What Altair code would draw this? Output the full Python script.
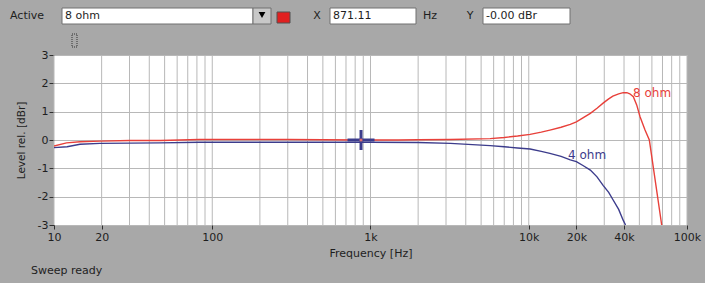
import altair as alt
import pandas as pd

# ---- data ----
freq_8 = [10, 12, 14.6, 19.5, 30, 47, 83, 136, 200, 300, 500, 871, 1500, 2000, 3200,
          5700, 7000, 8500, 10200, 12000, 13600, 16000, 18300, 20000, 22000, 24500,
          27000, 29500, 32000, 34000, 37000, 39500, 41700, 43500,
          45800, 48100, 50500, 54300, 57800, 69200]
level_8 = [-0.21, -0.1, -0.06, -0.04, -0.02, -0.02, 0.02, 0.02, 0.02, 0.02, 0.01, 0.0,
           0.0, 0.01, 0.02, 0.05, 0.09, 0.14, 0.2, 0.28, 0.35, 0.45, 0.55, 0.64, 0.78, 0.94,
           1.12, 1.3, 1.45, 1.55, 1.63, 1.67, 1.67, 1.63,
           1.53, 1.24, 0.82, 0.35, 0.0, -3.0]

freq_4 = [10, 12.1, 14.6, 19.5, 46.7, 83.5, 136, 300, 1000, 2000, 3200, 5700, 7000, 8500,
          10200, 12000, 13600, 16000, 18300, 20000, 22000, 24500, 27000, 29500, 32000,
          34000, 37000, 39500, 40900]
level_4 = [-0.27, -0.24, -0.15, -0.12, -0.1, -0.08, -0.08, -0.08, -0.08, -0.09, -0.12,
           -0.2, -0.24, -0.28, -0.32, -0.4, -0.47, -0.58, -0.7, -0.76, -0.9, -1.06,
           -1.3, -1.6, -1.85, -2.1, -2.45, -2.83, -3.0]

x_label_values = [10, 20, 100, 1000, 10000, 20000, 40000, 100000]
y_values = [-3, -2, -1, 0, 1, 2, 3]
grid_freqs = [m * 10 ** d for d in range(1, 5) for m in range(1, 10)] + [100000]

series_labels = ["8 ohm", "4 ohm"]
label_freqs = [45600, 17700]
label_levels = [1.66, -0.53]

cursor_freq = [871.11]
cursor_level = [0.0]

RED = "#E8403A"
BLUE = "#3C3C8C"
BG = "#A8A8A8"
TXT = "#1E1E1E"
FONT = "DejaVu Sans"

df = pd.concat([
    pd.DataFrame({"f": freq_8, "v": level_8, "s": "8 ohm"}),
    pd.DataFrame({"f": freq_4, "v": level_4, "s": "4 ohm"}),
])
df_grid = pd.DataFrame({"f": grid_freqs})
df_lab = pd.DataFrame({"f": label_freqs, "v": label_levels, "t": series_labels})
df_cur = pd.DataFrame({"f": cursor_freq, "v": cursor_level})
one = pd.DataFrame({"d": [0]})

xscale = alt.Scale(type="log", domain=[10, 100000], nice=False)
yscale = alt.Scale(domain=[-3, 3], nice=False, zero=False)

xaxis = alt.Axis(values=x_label_values,
                 labelExpr="datum.value >= 1000 ? (datum.value/1000) + 'k' : datum.value + ''",
                 grid=False, domain=False, tickColor="#303030", tickSize=4,
                 labelPadding=2, labelFontSize=11, labelColor=TXT, labelFont=FONT,
                 labelFlush=False, labelOverlap=False,
                 title="Frequency [Hz]", titleFontWeight="normal", titleFontSize=11,
                 titleColor=TXT, titleFont=FONT, titlePadding=5)
yaxis = alt.Axis(values=y_values, labelExpr="datum.value + ''",
                 grid=True, gridColor="#B8B8B8", domain=False,
                 tickColor="#303030", tickSize=5, labelPadding=1, labelFontSize=11,
                 labelColor=TXT, labelFont=FONT, labelFlush=False, labelOverlap=False,
                 title="Level rel. [dBr]", titleFontWeight="normal", titleFontSize=10.5,
                 titleColor=TXT, titleFont=FONT, titlePadding=11)

X = lambda: alt.X("f:Q", scale=xscale, axis=xaxis)
Y = lambda: alt.Y("v:Q", scale=yscale, axis=yaxis)

grid = alt.Chart(df_grid).mark_rule(color="#B8B8B8", strokeWidth=1).encode(x=X())

lines = alt.Chart(df).mark_line(strokeWidth=1.4, clip=True).encode(
    x=X(), y=Y(),
    color=alt.Color("s:N", scale=alt.Scale(domain=["8 ohm", "4 ohm"], range=[RED, BLUE]),
                    legend=None),
    detail="s:N",
)

labels = alt.Chart(df_lab).mark_text(align="left", baseline="middle", fontSize=12,
                                     font=FONT).encode(
    x=X(), y=Y(), text="t:N",
    color=alt.Color("t:N", scale=alt.Scale(domain=["8 ohm", "4 ohm"], range=[RED, BLUE]),
                    legend=None))

cur_h = alt.Chart(df_cur).mark_tick(orient="horizontal", size=27, thickness=3,
                                    color=BLUE, opacity=1).encode(x=X(), y=Y())
cur_v = alt.Chart(df_cur).mark_tick(orient="vertical", size=20, thickness=3,
                                    color=BLUE, opacity=1).encode(x=X(), y=Y())
cur_c = alt.Chart(df_cur).mark_point(shape="circle", size=10, filled=True,
                                     color="#E07070", opacity=1).encode(x=X(), y=Y())


def rect(x1, x2, y1, y2, fill, stroke=None, dash=None):
    kw = dict(fill=fill)
    if stroke:
        kw["stroke"] = stroke
        kw["strokeWidth"] = 1
    if dash:
        kw["strokeDash"] = dash
    return alt.Chart(one).mark_rect(**kw).encode(
        x=alt.value(x1), x2=alt.value(x2), y=alt.value(y1), y2=alt.value(y2))


def text(t, x, y, align="left", size=11):
    return alt.Chart(one).mark_text(align=align, baseline="middle", fontSize=size,
                                    font=FONT, color=TXT).encode(
        x=alt.value(x), y=alt.value(y), text=alt.value(t))


deco = [
    text("Active", -44, -39),
    rect(8, 199, -47, -31, "white", "#707070"),
    text("8 ohm", 11, -39),
    rect(199, 217, -47, -31, "#C8C8C8", "#707070"),
    alt.Chart(one).mark_point(shape="triangle-down", filled=True, size=45, color="black",
                              opacity=1).encode(x=alt.value(208), y=alt.value(-40)),
    rect(223, 236, -43, -32, "#E02020", "#505050"),
    text("X", 263, -39, align="center"),
    rect(276, 362, -47, -31, "white", "#707070"),
    text("871.11", 279, -39),
    text("Hz", 369, -39),
    text("Y", 416, -39, align="center"),
    rect(429, 516, -47, -31, "white", "#707070"),
    text("-0.00 dBr", 432, -39),
    rect(18, 23, -21, -8, "transparent", "#333333", [1, 1]),
    text("Sweep ready", -23, 216),
]

chart = alt.layer(grid, lines, labels, cur_h, cur_v, cur_c, *deco).properties(
    width=633, height=170,
    autosize=alt.AutoSizeParams(type="none"),
    padding={"left": 54, "top": 55, "right": 18, "bottom": 58},
    background=BG,
).configure_view(fill="white", stroke=None)

chart.save("out.html", embed_options={"renderer": "svg", "actions": False})
